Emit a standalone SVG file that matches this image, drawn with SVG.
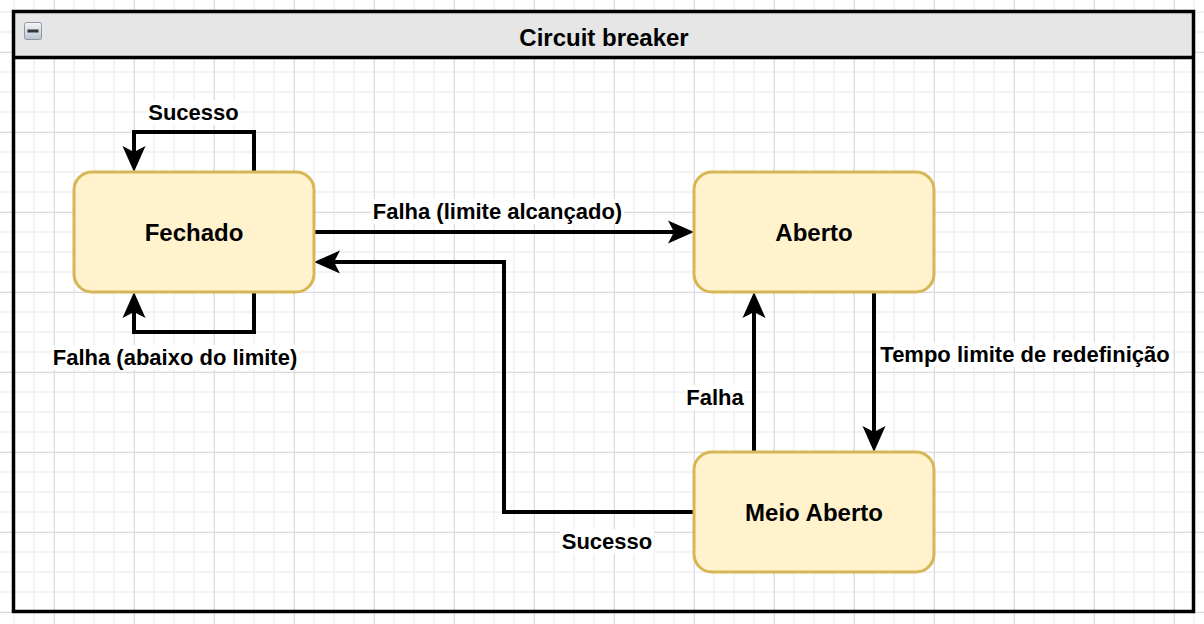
<svg xmlns="http://www.w3.org/2000/svg" width="1204" height="624" viewBox="0 0 1204 624">
  <style>
    .node rect.box { fill: #fff2cc; stroke: #d6b656; stroke-width: 3; }
    .ntext { font-family: "Liberation Sans", Arial, sans-serif; font-weight: bold; font-size: 24px; fill: #000; text-anchor: middle; }
    .ltext { font-family: "Liberation Sans", Arial, sans-serif; font-weight: bold; font-size: 22px; fill: #000; text-anchor: middle; }
    .lbg { fill: #ffffff; }
    .edge { fill: none; stroke: #000; stroke-width: 4; stroke-linejoin: miter; marker-end: url(#arrow); }
  </style>
  <defs>
    <pattern id="minor" x="13" y="11" width="20" height="20" patternUnits="userSpaceOnUse">
      <rect x="0" y="0" width="2" height="20" fill="#f3f3f3"/>
      <rect x="0" y="0" width="20" height="2" fill="#f3f3f3"/>
    </pattern>
    <pattern id="major" x="54" y="52" width="80" height="80" patternUnits="userSpaceOnUse">
      <path d="M0.5,0 V80 M0,0.5 H80" stroke="#dcdcdc" stroke-width="1" fill="none"/>
    </pattern>
    <marker id="arrow" markerUnits="userSpaceOnUse" markerWidth="30" markerHeight="30" refX="16" refY="12" orient="auto" viewBox="0 0 30 30">
      <path d="M26,12 L0,0.5 L6,12 L0,23.5 Z" fill="#000"/>
    </marker>
    <linearGradient id="iconGrad" x1="0" y1="0" x2="0" y2="1">
      <stop offset="0" stop-color="#f4f6fa"/>
      <stop offset="1" stop-color="#b9c3cf"/>
    </linearGradient>
  </defs>

  <rect x="0" y="0" width="1204" height="624" fill="#ffffff"/>
  <rect x="0" y="0" width="1204" height="624" fill="url(#minor)"/>
  <rect x="0" y="0" width="1204" height="624" fill="url(#major)"/>

  <g id="container">
    <rect x="13.5" y="11.5" width="1180" height="46" fill="#e6e6e6"/>
    <rect x="13.5" y="11.5" width="1180" height="600" fill="none" stroke="#000" stroke-width="3.5"/>
    <line x1="13.5" y1="57.5" x2="1193.5" y2="57.5" stroke="#000" stroke-width="3.5"/>
    <rect x="24.5" y="22.5" width="17" height="17" rx="2" fill="url(#iconGrad)" stroke="#8a97a6" stroke-width="1"/>
    <rect x="27.5" y="29.5" width="11" height="3" fill="#333"/>
    <text class="ntext" x="604" y="45.5">Circuit breaker</text>
  </g>

  <g id="connectors">
    <path class="edge" d="M254,172 V132 H134 V162"/>
    <path class="edge" d="M254,292 V332 H134 V302"/>
    <path class="edge" d="M314,232 H684"/>
    <path class="edge" d="M694,512 H504 V262 H324"/>
    <path class="edge" d="M874,292 V442"/>
    <path class="edge" d="M754,452 V302"/>

    <rect class="lbg" x="147" y="100" width="93" height="25"/>
    <text class="ltext" x="193.5" y="120">Sucesso</text>
    <rect class="lbg" x="371" y="199" width="253" height="25"/>
    <text class="ltext" x="497.5" y="219">Falha (limite alcançado)</text>
    <rect class="lbg" x="51" y="345" width="248" height="25"/>
    <text class="ltext" x="175" y="365">Falha (abaixo do limite)</text>
    <rect class="lbg" x="879" y="342" width="292" height="25"/>
    <text class="ltext" x="1025" y="362">Tempo limite de redefinição</text>
    <rect class="lbg" x="685" y="385" width="60" height="25"/>
    <text class="ltext" x="715" y="405">Falha</text>
    <rect class="lbg" x="560" y="529" width="94" height="25"/>
    <text class="ltext" x="607" y="549">Sucesso</text>
  </g>

  <g id="fechado" class="node">
    <rect class="box" x="74" y="172" width="240" height="120" rx="18"/>
    <text class="ntext" x="194" y="241">Fechado</text>
  </g>
  <g id="aberto" class="node">
    <rect class="box" x="694" y="172" width="240" height="120" rx="18"/>
    <text class="ntext" x="814" y="241">Aberto</text>
  </g>
  <g id="meio-aberto" class="node">
    <rect class="box" x="694" y="452" width="240" height="120" rx="18"/>
    <text class="ntext" x="814" y="521">Meio Aberto</text>
  </g>
</svg>
